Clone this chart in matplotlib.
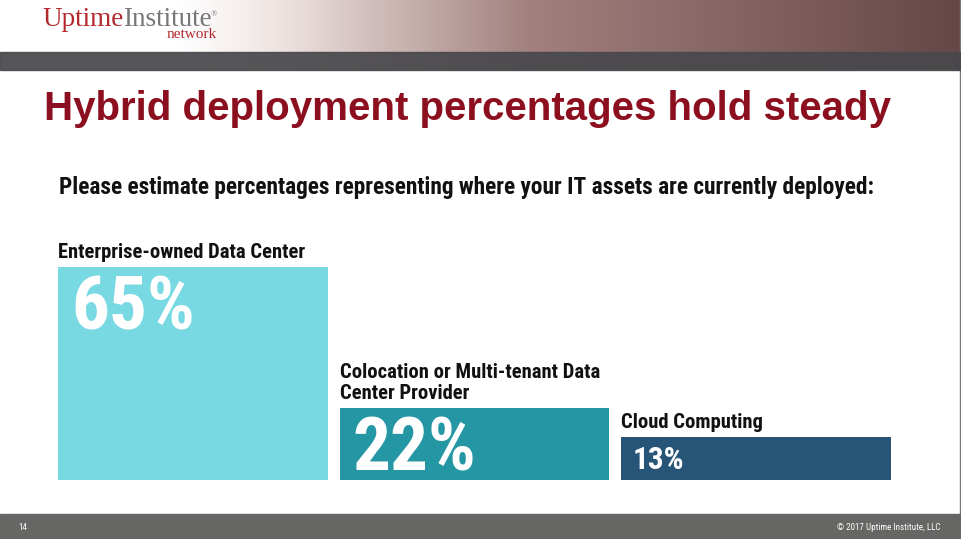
import numpy as np
import matplotlib
matplotlib.use("Agg")
import matplotlib.pyplot as plt

# data
categories = ["Enterprise-owned Data Center",
              "Colocation or Multi-tenant Data\nCenter Provider",
              "Cloud Computing"]
values = [65, 22, 13]
value_labels = ["65%", "22%", "13%"]
bar_colors = ["#79d9e3", "#2596a3", "#275577"]

W, H = 961, 539
fig = plt.figure(figsize=(W / 100, H / 100), dpi=100)
fig.patch.set_facecolor("white")

COND = ["Roboto Condensed", "DejaVu Sans"]
SERIF = ["Liberation Serif", "DejaVu Serif"]


def fx(px):
    return px / W


def fy(py):
    return 1 - py / H


def pt(px):  # pixels -> points for offsets
    return px * 0.72


# header photo strip (plain gradient in place of the photo)
ax_bg = fig.add_axes([fx(180), fy(70), fx(961 - 180), 70 / H])
ax_bg.axis("off")
grad = np.linspace(0, 1, 400)
r = np.interp(grad, [0, 0.12, 0.45, 1], [1.0, 0.94, 0.63, 0.40])
g = np.interp(grad, [0, 0.12, 0.45, 1], [1.0, 0.90, 0.50, 0.28])
b = np.interp(grad, [0, 0.12, 0.45, 1], [1.0, 0.89, 0.49, 0.28])
img = np.dstack([np.tile(r, (70, 1)), np.tile(g, (70, 1)), np.tile(b, (70, 1))])
ax_bg.imshow(img, aspect="auto", extent=[0, 1, 0, 1])
ax_bg.set_xlim(0, 1)
ax_bg.set_ylim(0, 1)

# dark band under the header
fig.patches.append(plt.Rectangle((0, fy(70)), 1, 18 / H, transform=fig.transFigure,
                                 color="#48484c", alpha=0.92, zorder=2))

# logo
fig.text(fx(42), fy(26.5), "Uptime", color="#b3282d", fontsize=19.5, family=SERIF, va="baseline")
fig.text(fx(123), fy(26.5), "Institute", color="#77777a", fontsize=19.5, family=SERIF, va="baseline")
fig.text(fx(211), fy(16), "\u00ae", color="#77777a", fontsize=6, family=SERIF, va="baseline")
fig.text(fx(217), fy(38.5), "network", color="#b3282d", fontsize=11, family=SERIF,
         va="baseline", ha="right")

# title and subtitle
fig.text(fx(44), fy(120), "Hybrid deployment percentages hold steady", color="#8c0f1f",
         fontsize=29, fontweight="bold", family=["Liberation Sans", "DejaVu Sans"],
         va="baseline")
fig.text(fx(59), fy(194), "Please estimate percentages representing where your IT assets are currently deployed:",
         color="#111111", fontsize=16.85, fontweight="bold", family=COND, va="baseline")

# bars
x = np.arange(len(values))
bw = 0.957
ax = fig.add_axes([fx(58), fy(480), fx(891 - 58), 213 / H])
ax.bar(x, values, width=bw, color=bar_colors, linewidth=0)
ax.set_xlim(-bw / 2, len(values) - 1 + bw / 2)
ax.set_ylim(0, 65)
ax.axis("off")

for i, (v, cat, lab) in enumerate(zip(values, categories, value_labels)):
    left = i - bw / 2
    ax.annotate(cat, (left, v), xytext=(0, pt(9)), textcoords="offset points",
                fontsize=14.9, fontweight="bold", family=COND, color="#111111",
                ha="left", va="baseline", linespacing=1.15, annotation_clip=False)
    if v >= 20:
        fs, off = 54, (pt(13), -pt(63))
    else:
        fs, off = 22.5, (pt(11), -pt(32))
    ax.annotate(lab, (left, v), xytext=off, textcoords="offset points",
                fontsize=fs, fontweight="bold", family=COND, color="white",
                ha="left", va="baseline", annotation_clip=False)

# footer
fig.patches.append(plt.Rectangle((0, 0), 1, 25 / H, transform=fig.transFigure,
                                 color="#666664", zorder=2))
fig.text(fx(18), fy(527), "14", color="white", fontsize=6.5, family=COND, va="center")
fig.text(fx(940), fy(527), "\u00a9 2017 Uptime Institute, LLC", color="white", fontsize=6.5,
         family=COND, va="center", ha="right")

# thin slide edge on the right
fig.add_artist(plt.Line2D([fx(959.5), fx(959.5)], [0, 1], transform=fig.transFigure,
                          color="#777777", lw=1))

fig.savefig("out.png", dpi=100)
